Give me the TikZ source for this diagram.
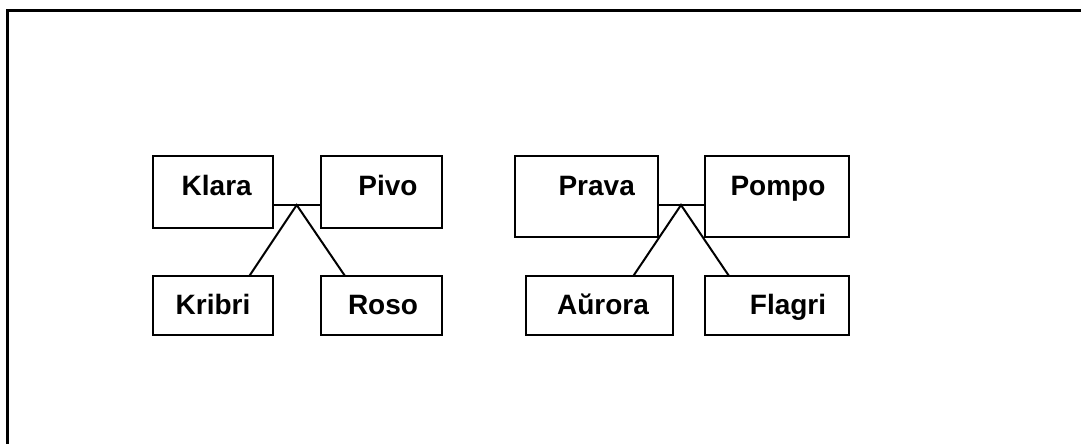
\documentclass[tikz,border=0pt]{standalone}
\usepackage{fontspec}
\setmainfont{Liberation Sans}
\begin{document}
\begin{tikzpicture}[x=1pt,y=-1pt,
  box/.style={draw,line width=2pt,inner sep=0pt,outer sep=0pt},
  lbl/.style={font=\fontsize{28}{30}\selectfont\bfseries,inner sep=0pt,anchor=base},
  link/.style={line width=2pt}]
\useasboundingbox (0,0) rectangle (1081,444);
% outer frame, open at the right and bottom
\draw[line width=3pt] (7,444) -- (7,11) -- (1081,11);

% left group
\node[box,minimum width=120.6pt,minimum height=72.3pt] (klara) at (213,192.2) {};
\node[box,minimum width=120.7pt,minimum height=72.3pt] (pivo) at (381.3,192.2) {};
\node[box,minimum width=120.6pt,minimum height=59pt] (kribri) at (213,305.5) {};
\node[box,minimum width=120.7pt,minimum height=59pt] (roso) at (381.3,305.5) {};
\node[lbl] (tklara) at (216.7,195) {Klara};
\node[lbl] (tpivo) at (388,195) {Pivo};
\node[lbl] (tkribri) at (213,314) {Kribri};
\node[lbl] (troso) at (383,314) {Roso};
\coordinate (apexA) at (296.7,205);
\draw[link] (klara.east |- apexA) -- (pivo.west |- apexA);
\draw[link] ([xshift=36.3pt]kribri.north) -- (apexA) -- ([xshift=-36.3pt]roso.north);

% right group
\node[box,minimum width=142.7pt,minimum height=81.3pt] (prava) at (586.3,196.6) {};
\node[box,minimum width=144pt,minimum height=81.3pt] (pompo) at (777,196.6) {};
\node[box,minimum width=147pt,minimum height=59pt] (aurora) at (599.2,305.5) {};
\node[box,minimum width=144pt,minimum height=59pt] (flagri) at (777,305.5) {};
\node[lbl] (tprava) at (596.7,195) {Prava};
\node[lbl] (tpompo) at (778,195) {Pompo};
\node[lbl] (taurora) at (603,314) {Aŭrora};
\node[lbl] (tflagri) at (788,314) {Flagri};
\coordinate (apexB) at (681,205);
\draw[link] (prava.east |- apexB) -- (pompo.west |- apexB);
\draw[link] ([xshift=34.1pt]aurora.north) -- (apexB) -- ([xshift=-48pt]flagri.north);
\end{tikzpicture}
\end{document}
